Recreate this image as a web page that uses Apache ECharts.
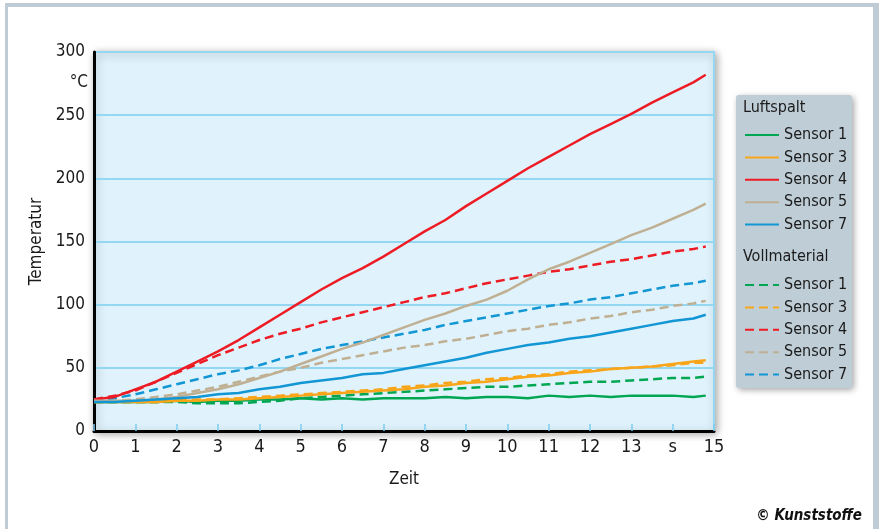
<!DOCTYPE html>
<html>
<head>
<meta charset="utf-8">
<script src="https://cdn.jsdelivr.net/npm/echarts@6/dist/echarts.min.js"></script>
<style>
  html, body { margin: 0; padding: 0; background: #fff; }
  .frame {
    position: absolute; left: 5px; top: 3px; width: 865px; height: 530px;
    border: solid #bfccd6; border-width: 4px 6px 0 3px;
  }
  #chart { position: absolute; left: 0; top: 0; width: 881px; height: 529px; }
</style>
</head>
<body>
<div class="frame"></div>
<div id="chart"></div>
<script>
// time in s (half-second steps, last sample at 14.8 s)
const time = [0, 0.5, 1, 1.5, 2, 2.5, 3, 3.5, 4, 4.5, 5, 5.5, 6, 6.5, 7, 7.5, 8, 8.5, 9, 9.5,
  10, 10.5, 11, 11.5, 12, 12.5, 13, 13.5, 14, 14.5, 14.8]

// Luftspalt (solid)
const luft1 = [23, 23, 23, 23, 24, 23, 24, 24, 25, 25, 26, 25, 26, 25, 26, 26, 26, 27, 26, 27, 27, 26, 28, 27, 28, 27, 28, 28, 28, 27, 28]
const luft3 = [23, 23, 23, 23, 24, 24, 25, 25, 26, 27, 28, 29, 30, 31, 32, 33, 35, 36, 38, 39, 41, 43, 44, 46, 47, 49, 50, 51, 53, 55, 56]
const luft4 = [25, 27, 33, 39, 47, 55, 63, 72, 82, 92, 102, 112, 121, 129, 138, 148, 158, 167, 178, 188, 198, 208, 217, 226, 235, 243, 251, 260, 268, 276, 282]
const luft5 = [24, 24, 24, 25, 27, 30, 33, 37, 42, 47, 53, 59, 65, 70, 76, 82, 88, 93, 99, 104, 111, 120, 128, 134, 141, 148, 155, 161, 168, 175, 180]
const luft7 = [23, 23, 24, 25, 26, 27, 29, 30, 33, 35, 38, 40, 42, 45, 46, 49, 52, 55, 58, 62, 65, 68, 70, 73, 75, 78, 81, 84, 87, 89, 92]

// Vollmaterial (dashed)
const voll1 = [23, 23, 23, 23, 23, 22, 22, 22, 23, 24, 26, 27, 28, 29, 30, 31, 32, 33, 34, 35, 35, 36, 37, 38, 39, 39, 40, 41, 42, 42, 43]
const voll3 = [23, 23, 23, 23, 24, 25, 25, 26, 27, 28, 29, 30, 31, 32, 33, 35, 36, 38, 39, 41, 42, 44, 45, 47, 48, 49, 50, 51, 52, 54, 54]
const voll4 = [25, 28, 32, 39, 46, 53, 60, 66, 72, 77, 81, 86, 90, 94, 98, 102, 106, 109, 113, 117, 120, 123, 126, 128, 131, 134, 136, 139, 142, 144, 146]
const voll5 = [24, 24, 25, 27, 29, 32, 35, 39, 43, 47, 50, 54, 57, 60, 63, 66, 68, 71, 73, 76, 79, 81, 84, 86, 89, 91, 94, 96, 99, 101, 103]
const voll7 = [24, 26, 29, 33, 37, 41, 45, 48, 52, 57, 61, 65, 68, 71, 74, 77, 80, 84, 87, 90, 93, 96, 99, 101, 104, 106, 109, 112, 115, 117, 119]

const sensors = ['Sensor 1', 'Sensor 3', 'Sensor 4', 'Sensor 5', 'Sensor 7']
const colors = ['#00a651', '#f9a51a', '#ed1c24', '#c0b093', '#1296d4']
const xTicks = ['0', '1', '2', '3', '4', '5', '6', '7', '8', '9', '10', '11', '12', '13', 's', '15']

const font = "'Liberation Sans Narrow', 'DejaVu Sans Condensed', sans-serif"
const textColor = '#1a1a1a'

const pairs = arr => arr.map((v, i) => [time[i], v])

function makeSeries(group, list, dashed) {
  return list.map((data, i) => ({
    name: group + ' ' + sensors[i],
    type: 'line',
    symbol: 'none',
    data: pairs(data),
    z: dashed ? 3 : 4,
    lineStyle: {
      color: colors[i],
      width: 2.5,
      type: dashed ? [9, 5] : 'solid'
    },
    itemStyle: { color: colors[i] }
  }))
}

const series = [
  ...makeSeries('Luftspalt', [luft1, luft3, luft4, luft5, luft7], false),
  ...makeSeries('Vollmaterial', [voll1, voll3, voll4, voll5, voll7], true)
]

const legendBase = {
  orient: 'vertical',
  left: 744,
  padding: 0,
  itemWidth: 34,
  itemHeight: 14,
  itemGap: 6.4,
  z: 5,
  selectedMode: false,
  itemStyle: { opacity: 0 },
  textStyle: { fontFamily: font, fontSize: 16, color: textColor },
  formatter: name => name.replace(/^\S+ /, '')
}

const chart = echarts.init(document.getElementById('chart'))
chart.setOption({
  animation: false,
  color: colors,
  grid: {
    left: 94,
    right: 167,
    top: 52,
    bottom: 98,
    show: true,
    backgroundColor: '#e0f3fc',
    borderColor: '#93d7f3',
    borderWidth: 2,
    shadowBlur: 8,
    shadowColor: 'rgba(0,0,0,0.35)',
    shadowOffsetX: 2,
    shadowOffsetY: 2
  },
  xAxis: {
    type: 'value',
    min: 0,
    max: 15,
    interval: 1,
    name: 'Zeit',
    nameLocation: 'middle',
    nameGap: 40,
    nameTextStyle: { fontFamily: font, fontSize: 17, color: textColor },
    axisLine: { onZero: false, lineStyle: { color: '#000', width: 3 } },
    axisTick: { show: true, inside: true, length: 7, lineStyle: { color: '#7ccdf0', width: 1.5 } },
    splitLine: { show: false },
    axisLabel: {
      margin: 7,
      fontFamily: font,
      fontSize: 18,
      color: textColor,
      formatter: v => xTicks[v]
    }
  },
  yAxis: {
    type: 'value',
    min: 0,
    max: 300,
    interval: 50,
    name: 'Temperatur',
    nameLocation: 'middle',
    nameGap: 47,
    nameRotate: 90,
    nameTextStyle: { fontFamily: font, fontSize: 17, color: textColor },
    axisLine: { show: true, lineStyle: { color: '#000', width: 3 } },
    axisTick: { show: false },
    splitLine: { lineStyle: { color: '#93d7f3', width: 2 } },
    axisLabel: { margin: 9, fontFamily: font, fontSize: 17, color: textColor }
  },
  legend: [
    Object.assign({}, legendBase, {
      top: 127,
      data: sensors.map(s => 'Luftspalt ' + s)
    }),
    Object.assign({}, legendBase, {
      top: 277,
      data: sensors.map(s => 'Vollmaterial ' + s)
    })
  ],
  graphic: [
    {
      type: 'rect',
      z: 1,
      shape: { x: 736, y: 95, width: 116, height: 293, r: 3 },
      style: {
        fill: '#bfcdd6',
        shadowBlur: 6,
        shadowColor: 'rgba(0,0,0,0.35)',
        shadowOffsetX: 2,
        shadowOffsetY: 2
      }
    },
    {
      type: 'text', z: 5, left: 743, top: 100,
      style: { text: 'Luftspalt', fontFamily: font, fontSize: 16, fill: textColor }
    },
    {
      type: 'text', z: 5, left: 743, top: 249,
      style: { text: 'Vollmaterial', fontFamily: font, fontSize: 16, fill: textColor }
    },
    {
      type: 'text', z: 5, x: 88, y: 83,
      style: { text: '°C', fontFamily: font, fontSize: 17, fill: textColor, align: 'right', verticalAlign: 'middle' }
    },
    {
      type: 'text', z: 5, x: 862, y: 516,
      style: {
        text: '© Kunststoffe', fontFamily: font, fontSize: 15, fontWeight: 'bold',
        fontStyle: 'italic', fill: '#111', align: 'right', verticalAlign: 'middle'
      }
    }
  ],
  series: series
})
</script>
</body>
</html>
